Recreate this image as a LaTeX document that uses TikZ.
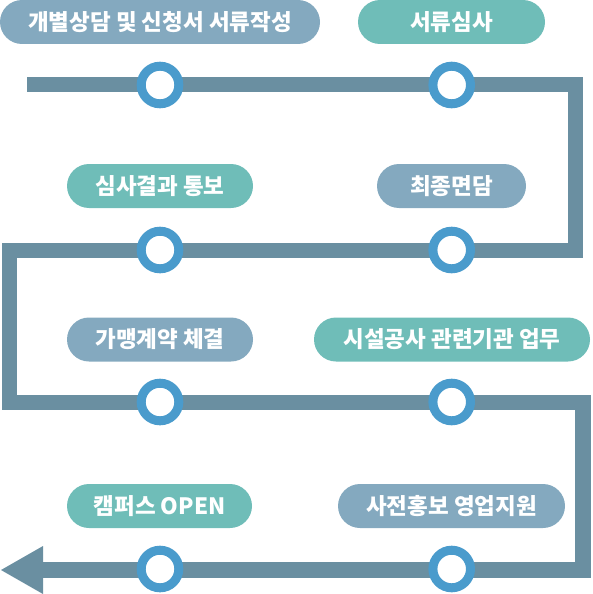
\documentclass[tikz,border=0pt]{standalone}
\usepackage{fontspec}
\newfontfamily\krfont{Noto Sans CJK KR}
\definecolor{track}{HTML}{6A8FA1}
\definecolor{ringc}{HTML}{4A9BCC}
\definecolor{slatelab}{HTML}{84A9BF}
\definecolor{teallab}{HTML}{6FBDB8}
\tikzset{
  lab/.style={rounded corners=22pt, minimum height=44pt, inner sep=0pt, text=white, font=\krfont\bfseries\fontsize{22.5}{24}\selectfont},
  bluelab/.style={lab, fill=slatelab},
  teallab/.style={lab, fill=teallab},
  ring/.style={circle, draw=ringc, line width=9pt, fill=white, minimum size=37.6pt, inner sep=0pt},
  trackline/.style={draw=track, line width=15.5pt, miter limit=10}
}
\begin{document}
\begin{tikzpicture}[x=1pt,y=-1pt]
\useasboundingbox (0,0) rectangle (592,594);
% track corners
\coordinate (s) at (27,84.5);
\coordinate (c1) at (575.5,84.5);
\coordinate (c2) at (575.5,250.5);
\coordinate (c3) at (9.5,250.5);
\coordinate (c4) at (9.5,402.5);
\coordinate (c5) at (583,402.5);
\coordinate (c6) at (583,570);
\coordinate (e) at (43,570);
\coordinate (tip) at (1,570);
\coordinate (bt) at (43,546);
\coordinate (bb) at (43,594);
\path[trackline] (s) -- (c1) -- (c2) -- (c3) -- (c4) -- (c5) -- (c6) -- (e);
\fill[track] (tip) -- (bt) -- (bb) -- cycle;
% rings
\node[ring] (r1) at (160,85) {};
\node[ring] (r2) at (451.7,85) {};
\node[ring] (r3) at (160,250) {};
\node[ring] (r4) at (451.7,250) {};
\node[ring] (r5) at (160,402) {};
\node[ring] (r6) at (451.7,402) {};
\node[ring] (r7) at (160,569) {};
\node[ring] (r8) at (451.7,569) {};
% labels
\node[bluelab, minimum width=320pt] (l1) at (160,22) {개별상담 및 신청서 서류작성};
\node[teallab, minimum width=187pt] (l2) at (451.5,22) {서류심사};
\node[teallab, minimum width=186pt] (l3) at (160,186) {심사결과 통보};
\node[bluelab, minimum width=149pt] (l4) at (451.5,186) {최종면담};
\node[bluelab, minimum width=186pt] (l5) at (160,339.5) {가맹계약 체결};
\node[teallab, minimum width=276pt] (l6) at (452,339.5) {시설공사 관련기관 업무};
\node[teallab, minimum width=185pt] (l7) at (159.5,506) {캠퍼스 OPEN};
\node[bluelab, minimum width=227pt] (l8) at (451.5,506) {사전홍보 영업지원};
\end{tikzpicture}
\end{document}
